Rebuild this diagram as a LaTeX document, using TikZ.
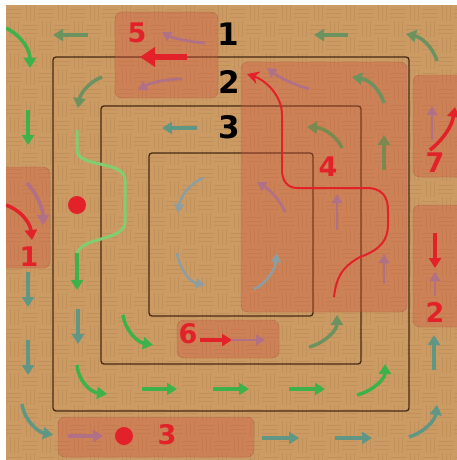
\documentclass[tikz,border=0pt]{standalone}
\usepackage{fontspec}
\setmainfont{DejaVu Sans}
\usetikzlibrary{arrows.meta}

\definecolor{wood}{RGB}{204,155,100}
\definecolor{woodline}{RGB}{178,130,78}
\definecolor{laneline}{RGB}{72,42,20}
\definecolor{zonered}{RGB}{206,84,62}
\definecolor{brightgreen}{RGB}{62,178,74}
\definecolor{dullgreen}{RGB}{108,146,96}
\definecolor{tealgreen}{RGB}{96,150,132}
\definecolor{olivegreen}{RGB}{122,138,78}
\definecolor{pinkarrow}{RGB}{176,112,136}
\definecolor{grayarrow}{RGB}{142,158,160}
\definecolor{redarrow}{RGB}{226,34,40}
\definecolor{lightgreen}{RGB}{128,206,112}

\tikzset{
  lane/.style={draw=laneline, line width=1.3pt, rounded corners=3pt},
  zone/.style={fill=zonered, fill opacity=0.36, draw=zonered!60!black, draw opacity=0.35, rounded corners=7pt},
  flow/.style={line width=3.5pt, -{Triangle[width=12pt,length=10pt]}},
  thinflow/.style={line width=2.6pt, -{Triangle[width=10pt,length=9pt]}},
  bigflow/.style={draw=redarrow, line width=6pt, -{Triangle[width=19pt,length=15pt]}},
  trail/.style={line width=2pt, draw=redarrow, -{Stealth[width=13pt,length=12pt]}},
  lanenum/.style={font=\bfseries\fontsize{31}{31}\selectfont, text=black, inner sep=0pt},
  zonenum/.style={font=\bfseries\fontsize{27}{27}\selectfont, text=redarrow, inner sep=0pt},
  spot/.style={circle, fill=redarrow, minimum size=18pt, inner sep=0pt}
}

\begin{document}
\begin{tikzpicture}[x=1pt, y=-1pt]

\useasboundingbox (0,0) rectangle (457,460);
\fill[white] (0,0) rectangle (457,460);

\begin{scope}
\clip (6,5) rectangle (457,460);
\fill[wood] (6,5) rectangle (457,460);

% parquet
\foreach \i in {0,...,28}{
  \foreach \j in {0,...,28}{
    \pgfmathsetmacro\tx{6+16*\i}
    \pgfmathsetmacro\ty{5+16*\j}
    \pgfmathparse{int(mod(\i+\j,2))}
    \ifnum\pgfmathresult=0
      \foreach \k in {4,8,12}
        \draw[woodline, line width=0.6pt, opacity=0.4] (\tx,{\ty+\k}) -- ++(16,0);
    \else
      \foreach \k in {4,8,12}
        \draw[woodline, line width=0.6pt, opacity=0.4] ({\tx+\k},\ty) -- ++(0,16);
    \fi
  }
}

% lanes
\draw[lane] (53,57) rectangle (409,411);
\draw[lane] (101,106) rectangle (361,364);
\draw[lane] (149,153) rectangle (313,316);

% zones
\path[zone] (115,12) rectangle (218,98);
\path[zone] (241,62) rectangle (407,312);
\path[zone] (413,75) rectangle (468,177);
\path[zone] (413,205) rectangle (468,327);
\path[zone] (-10,167) rectangle (50,268);
\path[zone] (177,320) rectangle (279,358);
\path[zone] (58,417) rectangle (254,457);

% outer lane
\draw[flow, brightgreen] (6,28) .. controls (22,36) and (30,50) .. (30,68);
\draw[flow, dullgreen] (88,35) -- (53,35);
\draw[flow, dullgreen] (348,35) -- (314,35);
\draw[flow, dullgreen] (437,61) .. controls (432,45) and (420,37) .. (406,34);
\draw[thinflow, pinkarrow] (432,140) -- (432,106);
\draw[flow, redarrow] (430,150) .. controls (445,138) and (452,125) .. (455,107);
\draw[flow, redarrow] (435,233) -- (435,268);
\draw[thinflow, pinkarrow] (435,296) -- (435,272);
\draw[flow, tealgreen] (434,370) -- (434,335);
\draw[flow, tealgreen] (409,437) .. controls (425,432) and (435,420) .. (437,405);
\draw[flow, tealgreen] (262,438) -- (299,438);
\draw[flow, tealgreen] (335,438) -- (372,438);
\draw[flow, pinkarrow] (68,436) -- (103,436);
\draw[flow, tealgreen] (22,404) .. controls (24,420) and (38,432) .. (53,435);
\draw[flow, tealgreen] (28,272) -- (28,307);
\draw[flow, tealgreen] (28,340) -- (28,375);
\draw[flow, brightgreen] (28,110) -- (28,145);
\draw[flow, redarrow] (6,205) .. controls (20,210) and (30,222) .. (32,240);
\draw[flow, pinkarrow] (27,183) .. controls (38,195) and (43,210) .. (43,225);

% zone 5
\draw[thinflow, pinkarrow] (205,43) .. controls (190,42) and (172,38) .. (162,32);
\draw[bigflow] (187,57) -- (140,57);
\draw[thinflow, pinkarrow] (182,79) .. controls (165,79) and (150,83) .. (138,90);

% middle lane
\draw[flow, dullgreen] (102,77) .. controls (88,82) and (80,95) .. (78,108);
\draw[lightgreen, line width=3pt] (77,130) -- (77,150) .. controls (77,168) and (125,160) .. (125,180)
  -- (125,222) .. controls (125,242) and (77,236) .. (77,256);
\draw[flow, brightgreen] (77,253) -- (77,290);
\draw[flow, tealgreen] (78,309) -- (78,344);
\draw[flow, brightgreen] (77,365) .. controls (78,380) and (90,392) .. (107,394);
\draw[flow, brightgreen] (142,389) -- (177,389);
\draw[flow, brightgreen] (213,389) -- (249,389);
\draw[flow, brightgreen] (289,389) -- (325,389);
\draw[flow, brightgreen] (357,395) .. controls (375,390) and (385,378) .. (385,364);
\draw[flow, olivegreen] (384,170) -- (384,135);
\draw[flow, dullgreen] (384,103) .. controls (380,90) and (370,80) .. (352,77);
\draw[thinflow, pinkarrow] (309,89) .. controls (295,85) and (280,78) .. (267,68);
\draw[thinflow, pinkarrow] (384,284) -- (384,254);
\draw[trail] (334,297) .. controls (336,280) and (340,268) .. (360,257)
  .. controls (380,250) and (388,240) .. (388,225) -- (388,210)
  .. controls (388,195) and (380,188) .. (367,188) -- (297,188)
  .. controls (287,188) and (282,180) .. (282,170) -- (282,115)
  .. controls (282,95) and (265,80) .. (247,74);

% inner lane
\draw[flow, tealgreen] (197,128) -- (162,128);
\draw[flow, olivegreen] (342,148) .. controls (338,138) and (325,128) .. (307,127);
\draw[thinflow, pinkarrow] (337,230) -- (337,194);
\draw[flow, dullgreen] (309,347) .. controls (325,343) and (337,330) .. (337,315);
\draw[flow, redarrow] (200,340) -- (232,340);
\draw[thinflow, pinkarrow] (231,340) -- (265,340);
\draw[flow, brightgreen] (123,315) .. controls (125,330) and (137,342) .. (153,345);

% core
\draw[thinflow, grayarrow] (203,178) .. controls (188,185) and (180,198) .. (178,213);
\draw[thinflow, grayarrow] (177,253) .. controls (180,270) and (190,282) .. (205,285);
\draw[thinflow, grayarrow] (254,289) .. controls (265,285) and (275,270) .. (277,253);
\draw[thinflow, pinkarrow] (285,212) .. controls (280,200) and (270,190) .. (257,182);
\end{scope}

% spots
\node[spot] (spotA) at (77,205) {};
\node[spot] (spotB) at (124,436) {};

% lane numbers
\node[lanenum] (lane1) at (228,34) {1};
\node[lanenum] (lane2) at (229,82) {2};
\node[lanenum] (lane3) at (229,127) {3};

% zone numbers
\node[zonenum] (zone5) at (137,33) {5};
\node[zonenum] (zone4) at (328,167) {4};
\node[zonenum] (zone7) at (435,163) {7};
\node[zonenum] (zone2) at (435,312) {2};
\node[zonenum] (zone1) at (29,257) {1};
\node[zonenum] (zone6) at (188,334) {6};
\node[zonenum] (zone3) at (167,435) {3};

\end{tikzpicture}
\end{document}
